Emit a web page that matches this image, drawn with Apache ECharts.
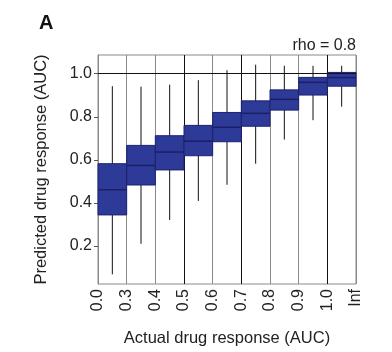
<!DOCTYPE html>
<html>
<head>
<meta charset="utf-8">
<script src="https://cdn.jsdelivr.net/npm/echarts@6/dist/echarts.min.js"></script>
<style>
html,body{margin:0;padding:0;background:#fff;}
#chart{width:392px;height:352px;}
</style>
</head>
<body>
<div id="chart"></div>
<script>
// Boundary tick labels of the actual-AUC bins
const boundaryLabels = ['0.0','0.3','0.4','0.5','0.6','0.7','0.8','0.9','1.0','Inf'];
// Box statistics per bin (predicted AUC)
const whiskerLow  = [0.068, 0.210, 0.320, 0.409, 0.484, 0.582, 0.694, 0.784, 0.847];
const q1          = [0.344, 0.483, 0.553, 0.619, 0.684, 0.756, 0.831, 0.901, 0.942];
const median      = [0.461, 0.574, 0.636, 0.687, 0.751, 0.816, 0.881, 0.960, 0.982];
const q3          = [0.582, 0.667, 0.712, 0.760, 0.820, 0.874, 0.925, 0.983, 1.006];
const whiskerHigh = [0.942, 0.940, 0.949, 0.970, 1.016, 1.042, 1.037, 1.037, 1.037];
const yTicks = [0.2, 0.4, 0.6, 0.8, 1.0];
const refLine = 1.0;
const rhoText = 'rho = 0.8';

const FONT = '"Liberation Sans", Arial, Helvetica, sans-serif';
const data = whiskerLow.map((v, i) => [i, v, q1[i], median[i], q3[i], whiskerHigh[i]]);

const chart = echarts.init(document.getElementById('chart'), null, {renderer: 'canvas'});
chart.setOption({
  animation: false,
  backgroundColor: '#fff',
  grid: {left: 98, right: 36, top: 55, bottom: 60, show: true, borderColor: '#8a8a8a', borderWidth: 1, backgroundColor: 'transparent'},
  xAxis: {
    type: 'value', min: 0, max: boundaryLabels.length - 1, interval: 1,
    name: 'Actual drug response (AUC)', nameLocation: 'middle', nameGap: 46,
    nameTextStyle: {fontFamily: FONT, fontSize: 16.5, color: '#222'},
    axisLine: {show: false},
    axisTick: {show: false},
    axisLabel: {rotate: 90, margin: 5, fontFamily: FONT, fontSize: 16, color: '#222',
      formatter: v => boundaryLabels[Math.round(v)] ?? ''},
    splitLine: {show: true, lineStyle: {width: 1, color: ['#8a8a8a','#8a8a8a','#8a8a8a','#111','#8a8a8a','#111','#8a8a8a','#8a8a8a','#111','#8a8a8a']}}
  },
  yAxis: {
    type: 'value', min: 0.023, max: 1.087,
    name: 'Predicted drug response (AUC)', nameLocation: 'middle', nameGap: 48,
    nameTextStyle: {fontFamily: FONT, fontSize: 16.5, color: '#222'},
    axisLine: {show: true, lineStyle: {color: '#8a8a8a'}},
    axisTick: {show: true, length: 4, lineStyle: {color: '#555'}, customValues: yTicks},
    axisLabel: {margin: 6, fontFamily: FONT, fontSize: 16, color: '#222', customValues: yTicks,
      formatter: v => v.toFixed(1)},
    splitLine: {show: false}
  },
  graphic: [
    {type: 'text', left: 39, top: 13, style: {text: 'A', font: 'bold 20px ' + FONT, fill: '#111'}},
    {type: 'text', right: 36, top: 38, style: {text: rhoText, font: '16px ' + FONT, fill: '#222'}}
  ],
  series: [{
    type: 'line',
    data: [],
    z: 1,
    markLine: {
      silent: true, symbol: ['none', 'none'], label: {show: false},
      lineStyle: {color: '#111', width: 1, type: 'solid'},
      data: [{yAxis: refLine}]
    }
  }, {
    type: 'custom',
    data: data,
    encode: {x: 0, y: [1, 2, 3, 4, 5]},
    clip: false,
    renderItem: function (params, api) {
      const x = api.value(0);
      const lo = api.coord([x + 0.5, api.value(1)]);
      const hi = api.coord([x + 0.5, api.value(5)]);
      const tl = api.coord([x, api.value(4)]);
      const br = api.coord([x + 1, api.value(2)]);
      const ml = api.coord([x, api.value(3)]);
      const mr = api.coord([x + 1, api.value(3)]);
      return {type: 'group', children: [
        {type: 'line', shape: {x1: lo[0], y1: lo[1], x2: hi[0], y2: hi[1]}, style: {stroke: '#111', lineWidth: 1}},
        {type: 'rect', shape: {x: tl[0], y: tl[1], width: br[0] - tl[0], height: br[1] - tl[1]},
          style: {fill: '#2e3a97', stroke: '#1c2270', lineWidth: 1}},
        {type: 'line', shape: {x1: ml[0], y1: ml[1], x2: mr[0], y2: mr[1]}, style: {stroke: '#1a1f66', lineWidth: 1.5}}
      ]};
    },
    z: 3
  }]
});
</script>
</body>
</html>
